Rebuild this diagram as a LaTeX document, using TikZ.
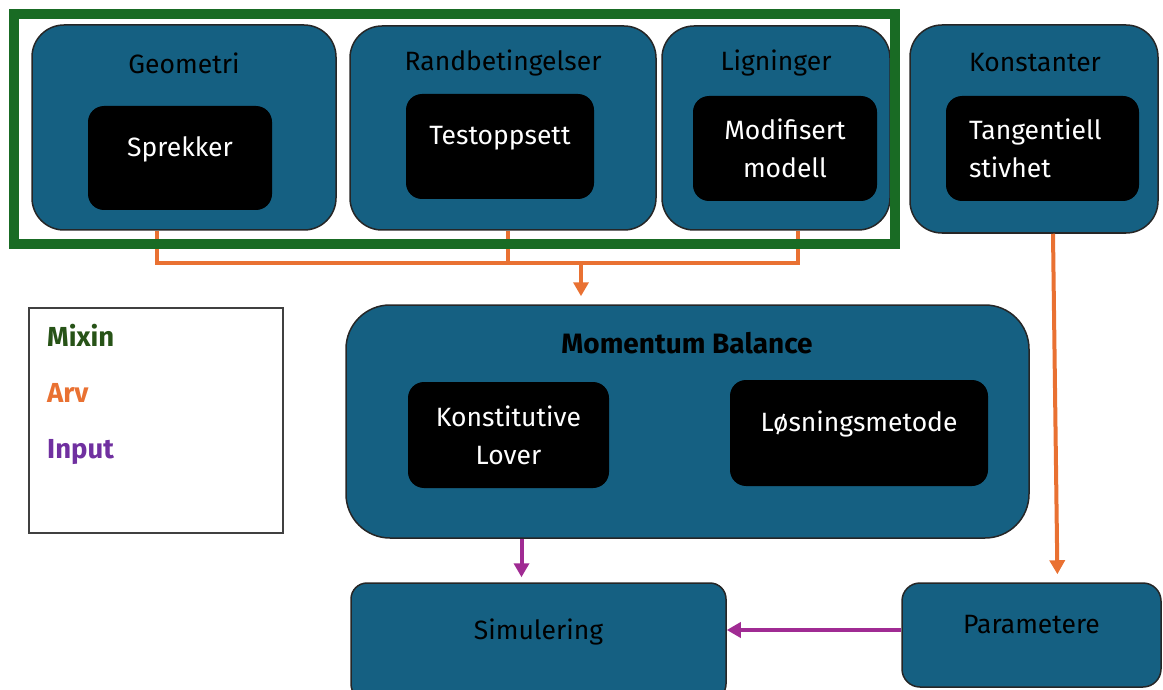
\documentclass[tikz,border=0pt]{standalone}
\usepackage{fontspec}
\setmainfont{Fira Sans}
\usepackage{xcolor}
\usetikzlibrary{arrows.meta}
\definecolor{boxblue}{HTML}{156082}
\definecolor{arvorange}{HTML}{E97132}
\definecolor{mixgreen}{HTML}{196B24}
\definecolor{inppurple}{HTML}{A02B93}
\definecolor{mixtxt}{HTML}{275317}
\definecolor{inptxt}{HTML}{7030A0}

\begin{document}
\begin{tikzpicture}[x=1pt,y=-1pt,
  grp/.style={draw=black!85,line width=1.5pt,fill=boxblue,rounded corners=32pt,
              inner sep=0pt,align=center,font=\fontsize{26.5}{31}\selectfont},
  blk/.style={fill=black,rounded corners=16pt,inner sep=0pt,align=center,
              text=white,font=\fontsize{26.5}{38}\selectfont},
  ttl/.style={inner sep=0pt,font=\fontsize{26.5}{31}\selectfont},
  lift/.style={text height=18.5pt,text depth=22pt},
  leg/.style={inner sep=0pt,anchor=west,font=\fontsize{27.5}{31}\selectfont\bfseries},
  arv/.style={draw=arvorange,line width=4pt,-{Triangle[width=15pt,length=14pt]}},
  arvline/.style={draw=arvorange,line width=4pt},
  inp/.style={draw=inppurple,line width=4pt,-{Triangle[width=15pt,length=14pt]}}
]
\useasboundingbox (0,0) rectangle (1163,690);

% top row
\node[grp,minimum width=304pt,minimum height=205pt] (geo) at (184,127.5) {};
\node[grp,minimum width=306pt,minimum height=204pt] (rand) at (503,128) {};
\node[grp,minimum width=228pt,minimum height=204pt] (lign) at (776,128) {};
\node[grp,minimum width=248pt,minimum height=208pt] (konst) at (1034,129) {};
\node[ttl] (geot) at (184,63) {Geometri};
\node[ttl] (randt) at (503,63) {Randbetingelser};
\node[ttl] (lignt) at (776,63) {Ligninger};
\node[ttl] (konstt) at (1035,63) {Konstanter};
\node[blk,lift,minimum width=184pt,minimum height=104pt] (spr) at (180,158) {Sprekker};
\node[blk,lift,minimum width=188pt,minimum height=105pt] (test) at (500,146.5) {Testoppsett};
\node[blk,minimum width=184pt,minimum height=105pt] (mod) at (785,148.5) {Modifisert\\modell};
\node[blk,align=left,text width=147pt,minimum width=193pt,minimum height=105pt] (tang) at (1042.5,148.5) {Tangentiell\\stivhet};

% momentum balance
\node[grp,rounded corners=44pt,minimum width=683pt,minimum height=233pt] (mb) at (687.5,421.5) {};
\node[ttl,font=\fontsize{28}{31}\selectfont\bfseries] (mbt) at (687,343) {Momentum Balance};
\node[blk,minimum width=201pt,minimum height=106pt] (kon) at (508.5,435) {Konstitutive\\Lover};
\node[blk,lift,minimum width=258pt,minimum height=106pt] (los) at (859,433) {Løsningsmetode};

% bottom row
\node[grp,lift,rounded corners=16pt,minimum width=375pt,minimum height=117pt] (sim) at (538.5,641.5) {Simulering};
\node[grp,lift,rounded corners=18pt,minimum width=259pt,minimum height=104pt] (par) at (1031.5,635) {Parametere};

% legend
\node[draw=black!75,line width=1.2pt,minimum width=254pt,minimum height=225pt] (leg) at (156,420.5) {};
\node[leg,text=mixtxt] (lmix) at (47,335) {Mixin};
\node[leg,text=arvorange] (larv) at (47,393) {Arv};
\node[leg,text=inptxt] (linp) at (47,452) {Input};

% arv
\coordinate (bus) at (581,263);
\draw[arvline] ([xshift=-27pt]geo.south) |- ([xshift=22pt]lign.south |- bus) -- ([xshift=22pt]lign.south);
\draw[arvline] ([xshift=5pt]rand.south) -- ([xshift=5pt]rand.south |- bus);
\draw[arv,shorten >=8pt] (bus) -- (bus |- mb.north);
\draw[arv,shorten >=8pt] ([xshift=19pt]konst.south) -- ([xshift=26pt]par.north);

% input
\draw[inp,shorten >=5pt] ([xshift=-166pt]mb.south) -- ([xshift=-166pt]mb.south |- sim.north);
\draw[inp] ([yshift=5pt]par.west) -- ([yshift=5pt]par.west -| sim.east);

% mixin
\node[draw=mixgreen,line width=10pt,minimum width=881pt,minimum height=230pt] (mix) at (454.5,129) {};
\end{tikzpicture}
\end{document}
